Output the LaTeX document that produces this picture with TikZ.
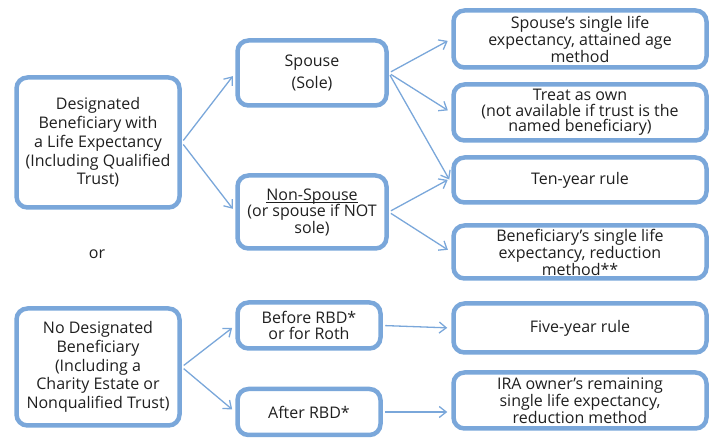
\documentclass[tikz,border=0pt]{standalone}
\usepackage{fontspec}
\setmainfont{Open Sans}
\usetikzlibrary{arrows.meta}
\definecolor{boxblue}{HTML}{7AA7DA}
\newcommand{\myul}[1]{{\setbox0\hbox{#1}\rlap{\rule[-2.2pt]{\wd0}{0.7pt}}\box0}}
\tikzset{
  box/.style={draw=boxblue, line width=4.5pt, rounded corners=11pt, align=center,
    inner sep=0pt, font=\fontsize{16}{15.5}\selectfont, text=black!88},
  bigbox/.style={box, font=\fontsize{16}{18.7}\selectfont},
  conn/.style={draw=boxblue, line width=1.3pt, -{Straight Barb[length=7pt,width=11pt,line width=1.3pt]},
    shorten <=2.5pt, shorten >=4pt}
}
\begin{document}
\begin{tikzpicture}[x=1pt,y=-1pt]
\useasboundingbox (0,0) rectangle (716,438);
% left column
\node[bigbox, minimum width=163pt, minimum height=130pt] (A) at (98,142.5)
  {Designated\\Beneficiary with\\a Life Expectancy\\(Including Qualified\\Trust)};
\node[bigbox, minimum width=163pt, minimum height=117pt] (B) at (98,367)
  {No Designated\\Beneficiary\\(Including a\\Charity Estate or\\Nonqualified Trust)};
\node[font=\fontsize{16}{16}\selectfont, text=black!88] (or) at (97,254) {or};
% middle column
\node[box, font=\fontsize{16}{22.5}\selectfont, minimum width=149pt, minimum height=65pt] (sp) at (312,73) {Spouse\\(Sole)};
\node[box, font=\fontsize{16}{16.5}\selectfont, minimum width=149pt, minimum height=73pt] (ns) at (312,212)
  {\myul{Non-Spouse}\\(or spouse if NOT\\sole)};
\node[box, minimum width=143pt, minimum height=46pt] (bf) at (309,325.5) {Before RBD*\\or for Roth};
\node[box, minimum width=143pt, minimum height=46pt] (af) at (309,412) {After RBD*};
% right column
\node[box, minimum width=253pt, minimum height=57pt] (r1) at (580,39)
  {Spouse’s single life\\expectancy, attained age\\method};
\node[box, minimum width=253pt, minimum height=56pt] (r2) at (580,112.5)
  {Treat as own\\(not available if trust is the\\named beneficiary)};
\node[box, minimum width=253pt, minimum height=45pt] (r3) at (580,180) {Ten-year rule};
\node[box, minimum width=253pt, minimum height=53pt] (r4) at (580,252)
  {Beneficiary’s single life\\expectancy, reduction\\method**};
\node[box, minimum width=253pt, minimum height=49pt] (r5) at (580,328) {Five-year rule};
\node[box, minimum width=253pt, minimum height=56pt] (r6) at (580,400.5)
  {IRA owner’s remaining\\single life expectancy,\\reduction method};
% connectors
\draw[conn] (A.east) -- (sp.west);
\draw[conn] (A.east) -- (ns.west);
\draw[conn] (sp.east) -- (r1.west);
\draw[conn] (sp.east) -- ([yshift=-3pt]r3.west);
\draw[conn] (sp.east) -- (r2.west);
\draw[conn] (ns.east) -- ([yshift=2pt]r3.west);
\draw[conn] (ns.east) -- (r4.west);
\draw[conn] (B.east) -- (bf.west);
\draw[conn] (B.east) -- (af.west);
\draw[conn] (bf.east) -- (r5.west);
\draw[conn] (af.east) -- (r6.west |- af.east);
\end{tikzpicture}
\end{document}
